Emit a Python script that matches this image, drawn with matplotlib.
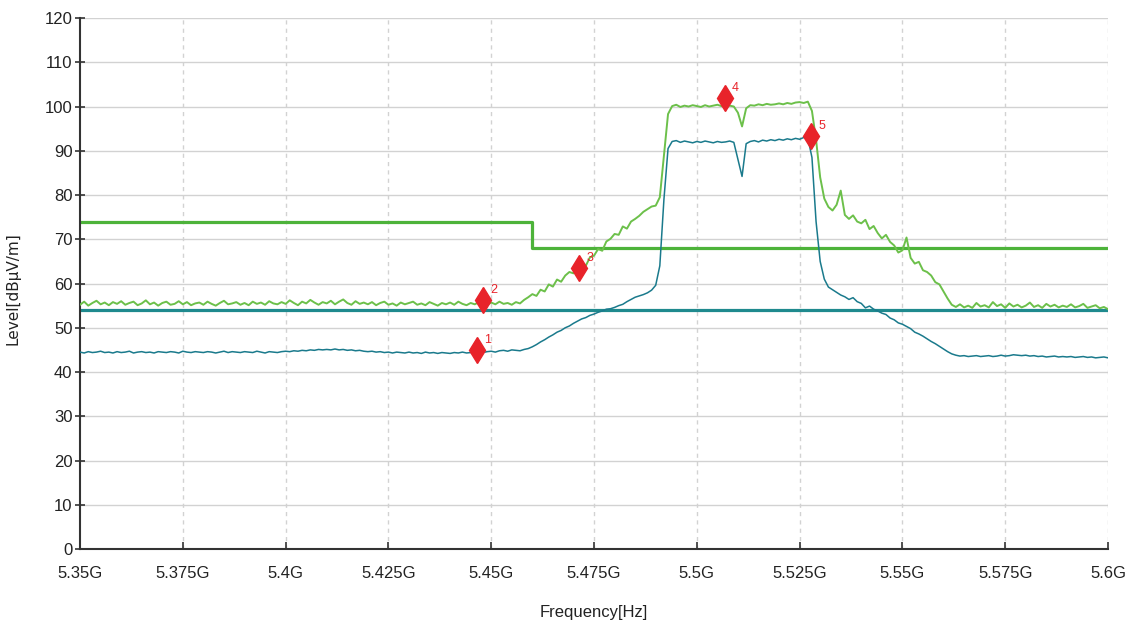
import numpy as np
import matplotlib
matplotlib.use("Agg")
import matplotlib.pyplot as plt
from matplotlib.ticker import FuncFormatter

# sweep grid: 5.350 .. 5.600 GHz, 1 MHz steps
freq_ghz = np.arange(5350, 5601) / 1000.0

# peak detector trace (dBuV/m)
peak = [
    55.2, 55.9, 55.0, 55.6, 56.1, 55.3, 55.7, 55.1, 55.8, 55.4,
    56.0, 55.2, 55.6, 55.9, 55.1, 55.5, 56.2, 55.3, 55.7, 55.0,
    55.6, 55.9, 55.2, 55.4, 56.0, 55.3, 55.8, 55.1, 55.5, 55.7,
    55.2, 55.9, 55.4, 55.0, 55.6, 56.1, 55.3, 55.5, 55.8, 55.2,
    55.6, 55.1, 55.9, 55.4, 55.7, 55.2, 56.0, 55.5, 55.3, 55.8,
    55.4, 56.2, 55.6, 55.1, 55.9, 55.5, 56.3, 55.7, 55.2, 55.8,
    55.5, 56.1, 55.3, 55.9, 56.4, 55.6, 55.2, 56.0, 55.4, 55.7,
    55.3, 55.8, 55.1, 55.6, 55.9, 55.2, 55.5, 55.0, 55.7, 55.3,
    55.6, 55.9, 55.2, 55.5, 55.1, 55.8, 55.4, 55.0, 55.6, 55.3,
    55.7, 55.2, 55.9, 55.4, 55.1, 55.6, 55.3, 55.8, 55.5, 55.2,
    55.7, 55.3, 55.9, 55.4, 55.6, 55.2, 55.8, 55.5, 56.3, 56.9,
    57.6, 57.2, 58.6, 58.2, 59.8, 59.3, 60.9, 60.4, 61.8, 62.6,
    62.3, 63.8, 64.2, 64.0, 65.9, 66.3, 67.8, 67.4, 69.5, 70.1,
    71.2, 71.0, 72.9, 72.4, 74.0, 74.6, 75.3, 76.2, 76.8, 77.4,
    77.6, 79.5, 89.0, 98.3, 100.1, 100.4, 99.9, 100.2, 100.0, 100.3,
    100.1, 99.9, 100.3, 100.0, 100.2, 100.4, 100.1, 99.9, 100.2, 100.0,
    98.6, 95.5, 99.6, 100.3, 100.2, 100.5, 100.3, 100.6, 100.4, 100.5,
    100.7, 100.5, 100.8, 100.6, 100.9, 101.0, 100.8, 101.1, 99.0, 92.5,
    84.0, 79.2, 77.3, 76.5, 77.8, 81.0, 75.5, 74.6, 75.4, 74.0,
    73.6, 74.4, 72.3, 73.0, 71.4, 70.2, 71.0, 69.4, 68.6, 67.0,
    67.5, 70.4, 65.8, 64.5, 64.9, 63.0, 62.6, 61.8, 60.3, 59.8,
    58.2, 56.6, 55.2, 54.7, 55.3, 54.6, 55.0, 54.5, 55.6, 54.8,
    55.1, 54.6, 55.8, 54.9, 55.3, 54.5, 55.5, 54.8, 55.2, 54.6,
    55.0, 55.7, 54.7, 55.1, 54.5, 55.4, 54.8, 55.2, 54.6, 55.0,
    54.7, 55.3, 54.6, 54.9, 55.4, 54.5, 54.8, 55.1, 54.4, 54.7,
    54.2,
]

# average detector trace (dBuV/m)
avg = [
    44.5, 44.3, 44.6, 44.4, 44.5, 44.7, 44.4, 44.5, 44.3, 44.6,
    44.4, 44.5, 44.7, 44.3, 44.5, 44.6, 44.4, 44.5, 44.3, 44.6,
    44.5, 44.4, 44.6, 44.5, 44.3, 44.7, 44.5, 44.4, 44.6, 44.5,
    44.4, 44.6, 44.5, 44.3, 44.5, 44.7, 44.4, 44.6, 44.5, 44.4,
    44.6, 44.5, 44.4, 44.7, 44.5, 44.3, 44.6, 44.5, 44.4, 44.6,
    44.7, 44.6, 44.8, 44.7, 44.9, 44.8, 45.0, 44.9, 45.1, 45.0,
    45.1, 45.0, 45.2, 45.0, 45.1, 44.9, 45.0, 44.8, 44.9, 44.7,
    44.6, 44.7, 44.5, 44.6, 44.4, 44.5, 44.3, 44.5, 44.4, 44.3,
    44.5, 44.3, 44.4, 44.2, 44.5, 44.3, 44.4, 44.2, 44.4, 44.3,
    44.2, 44.4, 44.3, 44.5, 44.3, 44.4, 44.2, 44.5, 44.4, 44.6,
    44.7, 44.5, 44.8, 44.9, 44.7, 45.0, 44.9, 44.8, 45.1, 45.3,
    45.7, 46.2, 46.8, 47.3, 47.9, 48.4, 49.0, 49.4, 50.0, 50.4,
    51.0, 51.5, 52.0, 52.3, 52.8, 53.1, 53.5, 53.8, 54.2, 54.3,
    54.6, 55.0, 55.3, 55.9, 56.4, 56.9, 57.2, 57.5, 57.9, 58.5,
    59.6, 64.0, 79.0, 90.5, 92.1, 92.3, 91.9, 92.2, 92.0, 91.8,
    92.1, 91.9, 92.2, 92.0, 91.8, 92.1, 91.9, 92.0, 92.2, 91.9,
    88.0, 84.2, 91.6, 92.1, 92.3, 92.0, 92.4, 92.2, 92.5, 92.3,
    92.6, 92.4, 92.7, 92.5, 92.8, 92.6, 93.0, 92.9, 88.5, 74.0,
    65.0, 61.0, 59.2, 58.6, 58.0, 57.4, 57.0, 56.4, 56.8, 55.9,
    55.5, 54.5, 54.9, 54.2, 53.8, 53.3, 53.0, 52.2, 51.8, 51.1,
    50.8, 50.3, 49.8, 49.0, 48.6, 48.1, 47.5, 46.9, 46.4, 45.8,
    45.2, 44.6, 44.1, 43.8, 43.6, 43.7, 43.5, 43.6, 43.7, 43.5,
    43.6, 43.7, 43.5, 43.6, 43.8, 43.6, 43.7, 43.9, 43.8, 43.7,
    43.8, 43.6, 43.7, 43.5, 43.6, 43.4, 43.5, 43.6, 43.4, 43.5,
    43.4, 43.5, 43.3, 43.4, 43.5, 43.3, 43.4, 43.2, 43.3, 43.4,
    43.2,
]

# limit lines
pk_limit_f = [5.35, 5.46, 5.46, 5.60]
pk_limit_v = [74, 74, 68, 68]
av_limit_f = [5.35, 5.60]
av_limit_v = [54, 54]

# markers
mk_labels = ["1", "2", "3", "4", "5"]
mk_freq = [5.4465, 5.4480, 5.4714, 5.5069, 5.5278]
mk_level = [45.0, 56.3, 63.5, 101.9, 93.3]

xticks = [5.35, 5.375, 5.4, 5.425, 5.45, 5.475, 5.5, 5.525, 5.55, 5.575, 5.6]

C = {"peak": "#6CC04A", "plim": "#4DB33A", "avg": "#1A7A8C",
     "alim": "#1F8A8E", "mk": "#E8232A", "grid": "#D2D2D2", "axis": "#333333"}

sans = ["Liberation Sans", "DejaVu Sans"]

fig = plt.figure(figsize=(11.29, 6.26), dpi=100)
ax = fig.add_axes([0.0709, 0.1230, 0.9105, 0.8482])

ax.plot(pk_limit_f, pk_limit_v, color=C["plim"], lw=2.3, zorder=2)
ax.plot(av_limit_f, av_limit_v, color=C["alim"], lw=2.3, zorder=2)
ax.plot(freq_ghz, peak, color=C["peak"], lw=1.4, zorder=3)
ax.plot(freq_ghz, avg, color=C["avg"], lw=1.1, zorder=3)

ax.plot(mk_freq, mk_level, ls="none", marker="d", ms=13, color=C["mk"],
        mec=C["mk"], zorder=5)
for lab, f, v in zip(mk_labels, mk_freq, mk_level):
    ax.annotate(lab, (f, v), xytext=(5, 5), textcoords="offset points",
                color=C["mk"], fontsize=9, family=sans, zorder=6)

ax.set_xlim(5.35, 5.6)
ax.set_ylim(0, 120)
ax.set_xticks(xticks)
ax.set_yticks(range(0, 121, 10))
ax.xaxis.set_major_formatter(FuncFormatter(lambda v, p: f"{v:g}G"))

for y in range(10, 121, 10):
    ax.axhline(y, color=C["grid"], lw=1.0, zorder=1)
for x in xticks[1:]:
    ax.axvline(x, color=C["grid"], lw=1.0, ls=(0, (3, 3)), zorder=1)

for s in ["top", "right"]:
    ax.spines[s].set_visible(False)
for s in ["left", "bottom"]:
    ax.spines[s].set_color(C["axis"])
    ax.spines[s].set_linewidth(1.5)

ax.tick_params(axis="y", direction="inout", length=7, width=1.2, color=C["axis"],
               pad=2)
ax.tick_params(axis="x", direction="in", length=5, width=1.2, color=C["axis"],
               pad=12)
for t in ax.get_xticklabels() + ax.get_yticklabels():
    t.set_family(sans)
    t.set_fontsize(12)
    t.set_color("#222222")

ax.set_xlabel("Frequency[Hz]", family=sans, fontsize=12, color="#222222")
ax.xaxis.set_label_coords(0.5, -0.105)
ax.set_ylabel("Level[dBμV/m]", family="DejaVu Sans", fontsize=11,
              color="#222222")
ax.yaxis.set_label_coords(-0.058, 0.49)

fig.savefig("out.png", dpi=100)
